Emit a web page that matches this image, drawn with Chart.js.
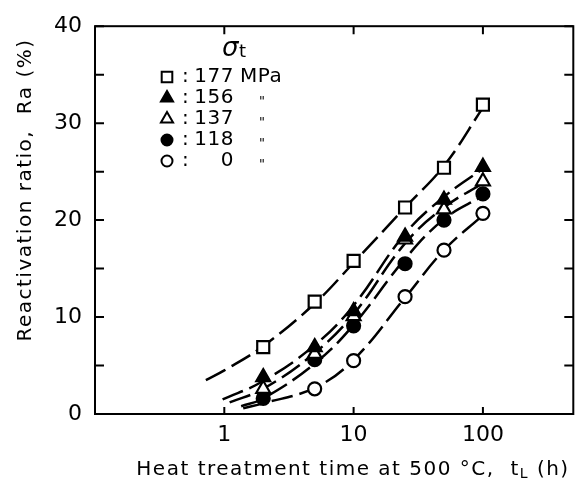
<!DOCTYPE html>
<html>
<head>
<meta charset="utf-8">
<script src="https://cdn.jsdelivr.net/npm/chart.js@4.4.0/dist/chart.umd.min.js"></script>
<style>
  html, body { margin: 0; padding: 0; background: #fff; }
  #wrap { width: 584px; height: 483px; }
</style>
</head>
<body>
<div id="wrap"><canvas id="chart" width="584" height="483"></canvas></div>
<script>
// stress levels (sigma_t, MPa) and marker look
const stressLabels = ['177', '156', '137', '118', '0'];
const markerStyles = ['rect', 'triangle', 'triangle', 'circle', 'circle'];
const markerFilled = [false, true, false, true, false];

// heat treatment time at 500 C (h)
const times  = [2, 5, 10, 25, 50, 100];
const times0 = [5, 10, 25, 50, 100];

// reactivation ratio Ra (%)
const ra177 = [6.9, 11.6, 15.8, 21.3, 25.4, 31.9];
const ra156 = [3.8, 6.9, 10.6, 18.3, 22.1, 25.5];
const ra137 = [2.6, 6.2, 10.1, 18.0, 21.1, 24.0];
const ra118 = [1.6, 5.6, 9.1, 15.5, 20.0, 22.7];
const ra0   = [2.6, 5.5, 12.1, 16.9, 20.7];

// dashed fitted curves
const curveT177 = [0.72, 1, 2, 5, 10, 25, 50, 100];
const curve177  = [3.5, 4.5, 7.0, 11.4, 15.6, 21.3, 25.6, 31.6];
const curveT156 = [0.97, 2, 5, 10, 25, 50, 100];
const curve156  = [1.5, 3.4, 7.1, 11.2, 18.6, 22.4, 25.3];
const curveT137 = [1.1, 2, 5, 10, 25, 50, 100];
const curve137  = [1.2, 2.6, 6.3, 10.3, 17.6, 21.3, 23.8];
const curveT118 = [1.35, 2, 5, 10, 25, 50, 100];
const curve118  = [0.8, 1.6, 5.2, 9.2, 16.0, 20.1, 22.5];
const curveT0   = [1.4, 2, 5, 10, 25, 50, 100];
const curve0    = [0.6, 1.1, 2.7, 5.6, 12.0, 16.9, 20.5];

// axes
const xTicks = [1, 10, 100];
const xTickLabels = ['1', '10', '100'];
const yTicks = [0, 10, 20, 30, 40];
const yMinorTicks = [5, 15, 25, 35];

const FONT = 'DejaVu Sans';

const pts = (xs, ys) => xs.map((x, i) => ({ x: x, y: ys[i] }));

const seriesX = [times, times, times, times, times0];
const seriesY = [ra177, ra156, ra137, ra118, ra0];
const curvesX = [curveT177, curveT156, curveT137, curveT118, curveT0];
const curvesY = [curve177, curve156, curve137, curve118, curve0];
const markerRadius = { rect: 8.5, triangle: 8, circle: 6.5 };

const datasets = [];
stressLabels.forEach((s, i) => {
  datasets.push({
    label: s + ' fit',
    data: pts(curvesX[i], curvesY[i]),
    showLine: true,
    borderColor: '#000',
    borderWidth: 2.5,
    borderDash: [22, 7],
    tension: 0.4,
    pointRadius: 0,
    order: 10
  });
  datasets.push({
    label: s + ' MPa',
    data: pts(seriesX[i], seriesY[i]),
    showLine: false,
    pointStyle: markerStyles[i],
    pointRadius: markerRadius[markerStyles[i]],
    pointBorderWidth: 2.2,
    pointBorderColor: '#000',
    pointBackgroundColor: markerFilled[i] ? '#000' : '#fff',
    order: i
  });
});

// text with an optional subscript piece, drawn left to right
function drawRuns(ctx, runs, x, y) {
  runs.forEach(r => {
    ctx.font = r.font;
    ctx.fillText(r.text, x, y + (r.dy || 0));
    x += ctx.measureText(r.text).width;
  });
}
function runsWidth(ctx, runs) {
  let w = 0;
  runs.forEach(r => { ctx.font = r.font; w += ctx.measureText(r.text).width; });
  return w;
}

const decor = {
  id: 'decor',
  afterDraw(chart) {
    const ctx = chart.ctx;
    const a = chart.chartArea;
    const xs = chart.scales.x, ys = chart.scales.y;
    ctx.save();
    ctx.strokeStyle = '#000';
    ctx.fillStyle = '#000';
    ctx.lineWidth = 2;
    ctx.strokeRect(a.left, a.top, a.right - a.left, a.bottom - a.top);

    // inward ticks
    ctx.beginPath();
    xTicks.forEach(v => {
      const px = xs.getPixelForValue(v);
      ctx.moveTo(px, a.bottom); ctx.lineTo(px, a.bottom - 7);
      ctx.moveTo(px, a.top); ctx.lineTo(px, a.top + 8);
    });
    yTicks.concat(yMinorTicks).forEach(v => {
      const py = ys.getPixelForValue(v);
      ctx.moveTo(a.left, py); ctx.lineTo(a.left + 9, py);
      ctx.moveTo(a.right, py); ctx.lineTo(a.right - 9, py);
    });
    ctx.stroke();

    // axis titles
    ctx.textBaseline = 'middle';
    ctx.letterSpacing = '1.5px';
    const f = '20px "' + FONT + '"';
    const fs = '14px "' + FONT + '"';
    const xRuns = [
      { text: 'Heat treatment time at 500 °C,  t', font: f },
      { text: 'L', font: fs, dy: 4 },
      { text: ' (h)', font: f }
    ];
    const xw = runsWidth(ctx, xRuns);
    drawRuns(ctx, xRuns, 353 - xw / 2, 470);

    const yRuns = [{ text: 'Reactivation ratio,  Ra (%)', font: f }];
    const yw = runsWidth(ctx, yRuns);
    ctx.save();
    ctx.translate(26, 190);
    ctx.rotate(-Math.PI / 2);
    drawRuns(ctx, yRuns, -yw / 2, 0);
    ctx.restore();

    // legend
    ctx.letterSpacing = '0.5px';
    drawRuns(ctx, [
      { text: 'σ', font: 'italic 26px "' + FONT + '"' },
      { text: 't', font: '18px "' + FONT + '"', dy: 3 }
    ], 222, 49);
    const rowY = [77, 98, 119, 140, 161];
    const lf = '20px "' + FONT + '"';
    stressLabels.forEach((s, i) => {
      const st = markerStyles[i];
      ctx.fillStyle = markerFilled[i] ? '#000' : '#fff';
      ctx.strokeStyle = '#000';
      ctx.lineWidth = 2;
      Chart.helpers.drawPoint(ctx, {
        pointStyle: st, radius: markerRadius[st] - 1, borderWidth: 2, rotation: 0
      }, 167, rowY[i]);
      ctx.fillStyle = '#000';
      ctx.font = lf;
      ctx.textAlign = 'left';
      ctx.fillText(':', 182, rowY[i]);
      ctx.textAlign = 'right';
      ctx.fillText(s, 234, rowY[i]);
      ctx.textAlign = 'left';
      if (i === 0) {
        ctx.fillText('MPa', 240, rowY[i]);
      } else {
        ctx.font = 'italic 13px "' + FONT + '"';
        ctx.fillText('"', 259, rowY[i] + 4);
      }
    });
    ctx.restore();
  }
};

new Chart(document.getElementById('chart'), {
  type: 'scatter',
  data: { datasets: datasets },
  options: {
    responsive: false,
    animation: false,
    layout: { padding: { top: 13, right: 5, left: 0, bottom: 0 } },
    plugins: { legend: { display: false }, tooltip: { enabled: false } },
    scales: {
      x: {
        type: 'logarithmic',
        min: 0.1,
        max: 500,
        grid: { display: false, drawTicks: false },
        border: { display: false },
        afterBuildTicks: s => { s.ticks = xTicks.map(v => ({ value: v })); },
        afterFit: s => { s.height = 69; },
        ticks: {
          color: '#000',
          padding: 8,
          maxRotation: 0,
          font: { family: FONT, size: 22 },
          callback: (v, i) => xTickLabels[i]
        }
      },
      y: {
        min: 0,
        max: 40,
        grid: { display: false, drawTicks: false },
        border: { display: false },
        afterBuildTicks: s => { s.ticks = yTicks.map(v => ({ value: v })); },
        afterFit: s => { s.width = 95; },
        ticks: {
          color: '#000',
          padding: 13,
          font: { family: FONT, size: 22 }
        }
      }
    }
  },
  plugins: [decor]
});
</script>
</body>
</html>
